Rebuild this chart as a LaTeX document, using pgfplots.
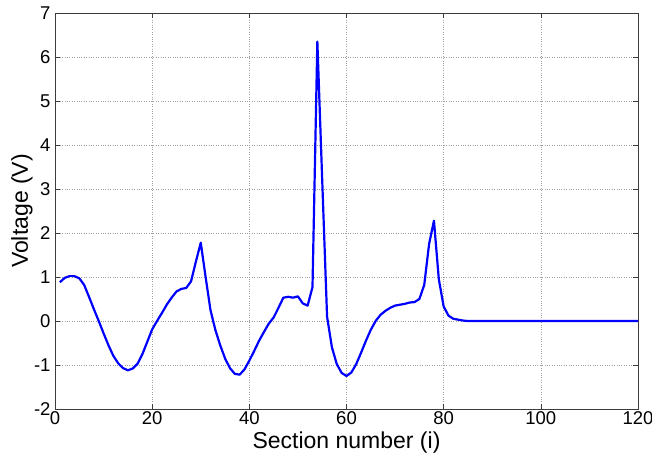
\documentclass[border=0pt]{standalone}
\usepackage{pgfplots}
\pgfplotsset{compat=1.18}
\usepackage{fontspec}
\setmainfont{Liberation Sans}
\definecolor{matblue}{RGB}{0,0,255}
\definecolor{axgray}{RGB}{60,60,60}
\begin{document}
\begin{tikzpicture}
\useasboundingbox (-55pt,-48pt) rectangle (597pt,409pt);
\begin{axis}[
  scale only axis,
  width=583pt, height=396pt,
  at={(0pt,0pt)}, anchor=south west,
  xmin=0, xmax=120, ymin=-2, ymax=7,
  xtick={0,20,...,120}, ytick={-2,-1,...,7},
  grid=major,
  major grid style={dotted, gray!75, line width=0.6pt},
  axis line style={axgray, line width=0.6pt},
  tick style={axgray, line width=0.6pt},
  tick align=inside,
  major tick length=5pt,
  /pgf/number format/assume math mode=true,
  ticklabel style={font=\fontsize{18.5}{21}\selectfont},
  xticklabel style={yshift=1pt},
  yticklabel style={xshift=-1pt},
  xlabel={Section number (i)},
  ylabel={Voltage (V)},
  label style={font=\fontsize{23}{26}\selectfont},
  xlabel style={at={(axis description cs:0.5,0)}, anchor=base, yshift=-39pt},
  ylabel style={at={(axis description cs:0,0.5)}, anchor=center, yshift=33pt},
]
\addplot[matblue, line width=2.2pt, line join=round] coordinates {
(1,0.88) (2,0.98) (3,1.02) (4,1.02) (5,0.97) (6,0.82) (7,0.55) (8,0.27)
(9,0.0) (10,-0.28) (11,-0.55) (12,-0.79) (13,-0.96) (14,-1.07) (15,-1.12)
(16,-1.08) (17,-0.97) (18,-0.75) (19,-0.47) (20,-0.19) (21,0.0) (22,0.18)
(23,0.37) (24,0.53) (25,0.67) (26,0.73) (27,0.75) (28,0.9) (29,1.35)
(30,1.78) (31,1.0) (32,0.25) (33,-0.2) (34,-0.55) (35,-0.85) (36,-1.07)
(37,-1.2) (38,-1.22) (39,-1.1) (40,-0.9) (41,-0.68) (42,-0.45) (43,-0.25)
(44,-0.06) (45,0.08) (46,0.3) (47,0.53) (48,0.55) (49,0.53) (50,0.56)
(51,0.4) (52,0.35) (53,0.77) (54,6.35) (55,3.2) (56,0.1) (57,-0.6)
(58,-0.98) (59,-1.18) (60,-1.25) (61,-1.17) (62,-0.98) (63,-0.72)
(64,-0.45) (65,-0.2) (66,0.0) (67,0.14) (68,0.23) (69,0.3) (70,0.35)
(71,0.37) (72,0.39) (73,0.42) (74,0.43) (75,0.5) (76,0.82) (77,1.75)
(78,2.28) (79,0.95) (80,0.33) (81,0.12) (82,0.05) (83,0.03) (84,0.01)
(85,0.0) (90,0.0) (100,0.0) (110,0.0) (120,0.0)
};
\end{axis}
\end{tikzpicture}
\end{document}
